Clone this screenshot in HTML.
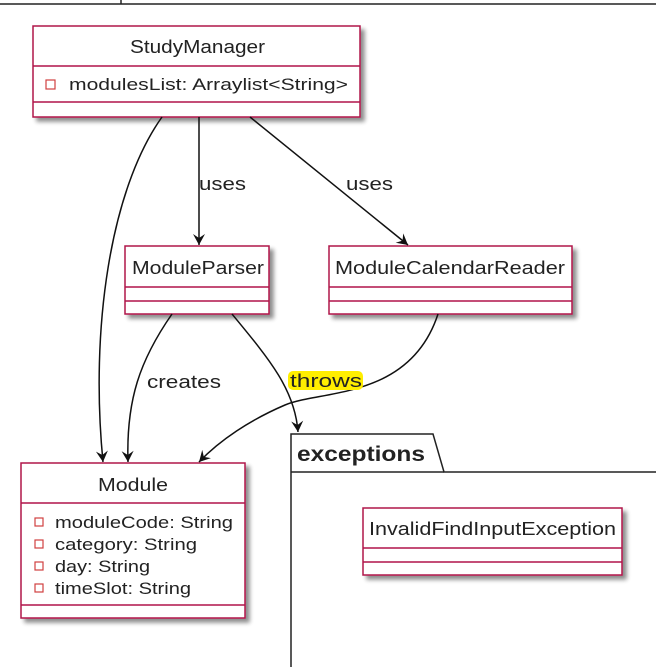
<!DOCTYPE html>
<html><head><style>
html,body{margin:0;padding:0;background:#fff;width:656px;height:667px;overflow:hidden}
svg text{font-family:"Liberation Sans",sans-serif;fill:#222}
</style></head><body>
<svg width="656" height="667" viewBox="0 0 656 667" xmlns="http://www.w3.org/2000/svg">
<defs>
<filter id="sh" x="-10%" y="-10%" width="130%" height="140%"><feGaussianBlur in="SourceAlpha" stdDeviation="2"/><feOffset dx="4" dy="4"/><feComponentTransfer><feFuncA type="linear" slope="0.45"/></feComponentTransfer><feMerge><feMergeNode/><feMergeNode in="SourceGraphic"/></feMerge></filter>
<marker id="ar" markerWidth="14" markerHeight="14" refX="12" refY="7" orient="auto" markerUnits="userSpaceOnUse"><path d="M1,1 L12,7 L1,13 L5,7 Z" fill="#111"/></marker>
</defs>
<line x1="0" y1="4" x2="656" y2="4" stroke="#222" stroke-width="1.5"/>
<line x1="121" y1="0" x2="121" y2="4" stroke="#222" stroke-width="1.5"/>

<g filter="url(#sh)"><rect x="33" y="26" width="327" height="91" fill="#fff" stroke="#b0144a" stroke-width="1.5"/></g>
<line x1="33" y1="66" x2="360" y2="66" stroke="#b0144a" stroke-width="1.5"/>
<line x1="33" y1="102" x2="360" y2="102" stroke="#b0144a" stroke-width="1.5"/>
<text x="130" y="53" font-size="18" textLength="135" lengthAdjust="spacingAndGlyphs">StudyManager</text>
<rect x="46" y="80" width="9" height="9" fill="none" stroke="#d04040" stroke-width="1.2"/>
<text x="69" y="90" font-size="17" textLength="279" lengthAdjust="spacingAndGlyphs">modulesList: Arraylist&lt;String&gt;</text>

<g filter="url(#sh)"><rect x="125" y="246" width="144" height="68" fill="#fff" stroke="#b0144a" stroke-width="1.5"/></g>
<line x1="125" y1="287" x2="269" y2="287" stroke="#b0144a" stroke-width="1.5"/>
<line x1="125" y1="301" x2="269" y2="301" stroke="#b0144a" stroke-width="1.5"/>
<text x="132" y="274" font-size="18" textLength="132" lengthAdjust="spacingAndGlyphs">ModuleParser</text>

<g filter="url(#sh)"><rect x="329" y="246" width="243" height="68" fill="#fff" stroke="#b0144a" stroke-width="1.5"/></g>
<line x1="329" y1="287" x2="572" y2="287" stroke="#b0144a" stroke-width="1.5"/>
<line x1="329" y1="301" x2="572" y2="301" stroke="#b0144a" stroke-width="1.5"/>
<text x="335" y="274" font-size="18" textLength="230" lengthAdjust="spacingAndGlyphs">ModuleCalendarReader</text>

<g filter="url(#sh)"><rect x="21" y="463" width="224" height="155" fill="#fff" stroke="#b0144a" stroke-width="1.5"/></g>
<line x1="21" y1="503" x2="245" y2="503" stroke="#b0144a" stroke-width="1.5"/>
<line x1="21" y1="605" x2="245" y2="605" stroke="#b0144a" stroke-width="1.5"/>
<text x="98" y="491" font-size="18" textLength="70" lengthAdjust="spacingAndGlyphs">Module</text>
<g font-size="17">
<rect x="35" y="518" width="8" height="8" fill="none" stroke="#d04040" stroke-width="1.2"/><text x="55" y="528" textLength="178" lengthAdjust="spacingAndGlyphs">moduleCode: String</text>
<rect x="35" y="540" width="8" height="8" fill="none" stroke="#d04040" stroke-width="1.2"/><text x="55" y="550" textLength="142" lengthAdjust="spacingAndGlyphs">category: String</text>
<rect x="35" y="562" width="8" height="8" fill="none" stroke="#d04040" stroke-width="1.2"/><text x="55" y="572" textLength="95" lengthAdjust="spacingAndGlyphs">day: String</text>
<rect x="35" y="584" width="8" height="8" fill="none" stroke="#d04040" stroke-width="1.2"/><text x="55" y="594" textLength="136" lengthAdjust="spacingAndGlyphs">timeSlot: String</text>
</g>

<path d="M291,667 L291,434 L433,434 L444,472 L656,472" fill="none" stroke="#222" stroke-width="1.5"/>
<line x1="291" y1="472" x2="444" y2="472" stroke="#222" stroke-width="1.5"/>
<text x="297" y="461" font-size="21" font-weight="bold" textLength="128" lengthAdjust="spacingAndGlyphs">exceptions</text>

<g filter="url(#sh)"><rect x="363" y="508" width="259" height="67" fill="#fff" stroke="#b0144a" stroke-width="1.5"/></g>
<line x1="363" y1="548" x2="622" y2="548" stroke="#b0144a" stroke-width="1.5"/>
<line x1="363" y1="562" x2="622" y2="562" stroke="#b0144a" stroke-width="1.5"/>
<text x="369" y="535" font-size="18" textLength="247" lengthAdjust="spacingAndGlyphs">InvalidFindInputException</text>

<g fill="none" stroke="#111" stroke-width="1.5" marker-end="url(#ar)">
<path d="M162,117 C110,190 90,330 103,462"/>
<path d="M199,117 L199,245"/>
<path d="M250,117 L408,245"/>
<path d="M172,314 C140,360 126,400 128,462"/>
<path d="M232,314 C270,360 295,390 298,432"/>
<path d="M438,314 C410,400 320,390 285,405 C250,420 220,440 199,462"/>
</g>
<text x="199" y="190" font-size="18" textLength="47" lengthAdjust="spacingAndGlyphs">uses</text>
<text x="346" y="190" font-size="18" textLength="47" lengthAdjust="spacingAndGlyphs">uses</text>
<text x="147" y="388" font-size="18" textLength="74" lengthAdjust="spacingAndGlyphs">creates</text>
<rect x="288" y="371" width="75" height="19" rx="5" fill="#ffee00"/>
<text x="290" y="387" font-size="18" textLength="72" lengthAdjust="spacingAndGlyphs">throws</text>
</svg>
</body></html>
